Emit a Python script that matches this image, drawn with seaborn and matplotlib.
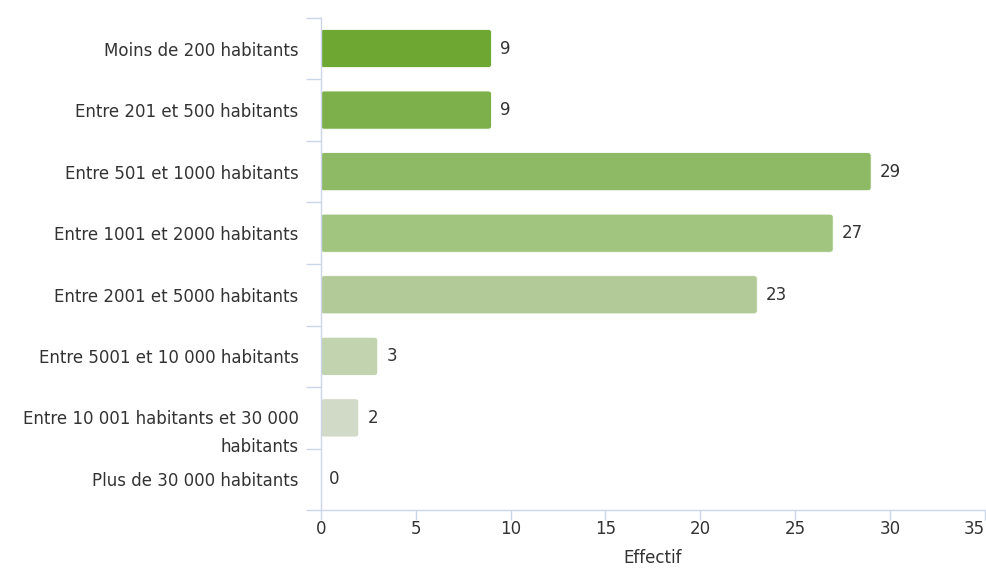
import matplotlib
matplotlib.use("Agg")
import matplotlib.pyplot as plt
import seaborn as sns
import pandas as pd
import numpy as np
from matplotlib.patches import FancyBboxPatch
from matplotlib.transforms import ScaledTranslation

# Data
categories = [
    "Moins de 200 habitants",
    "Entre 201 et 500 habitants",
    "Entre 501 et 1000 habitants",
    "Entre 1001 et 2000 habitants",
    "Entre 2001 et 5000 habitants",
    "Entre 5001 et 10 000 habitants",
    "Entre 10 001 habitants et 30 000\nhabitants",
    "Plus de 30 000 habitants",
]
effectif = [9, 9, 29, 27, 23, 3, 2, 0]
bar_colors = ["#6ea832", "#7db04b", "#8fba65", "#a1c47e",
              "#b2ca97", "#c2d4af", "#d0dac6", "#dfe4da"]
x_ticks = [0, 5, 10, 15, 20, 25, 30, 35]

df = pd.DataFrame({"categorie": categories, "effectif": effectif})

sns.set_style("white")
plt.rcParams["font.family"] = ["DejaVu Sans"]

axis_col = "#ccd6eb"
text_col = "#333333"
fs = 12

fig = plt.figure(figsize=(9.87, 5.72), dpi=100)
ax = fig.add_axes([0.325, 0.108, 0.673, 0.861])

sns.barplot(data=df, x="effectif", y="categorie", hue="categorie",
            palette=bar_colors, legend=False, width=0.62, ax=ax,
            saturation=1, linewidth=0)

ax.set_xlim(0, 35)
ax.set_ylim(7.5, -0.5)

# swap plain bars for slightly rounded ones
for p in list(ax.patches):
    x0, y0, w, h = p.get_x(), p.get_y(), p.get_width(), p.get_height()
    col = p.get_facecolor()
    p.remove()
    if w <= 0:
        continue
    ax.add_patch(FancyBboxPatch((x0, y0), w, h,
                                boxstyle="round,pad=0,rounding_size=0.17",
                                mutation_aspect=0.3, facecolor=col,
                                edgecolor="white", linewidth=0.6))

# value labels at bar ends
for i, v in enumerate(effectif):
    ax.text(v + 0.45, i, str(v), va="center", ha="left",
            fontsize=fs, color=text_col)

ax.set_xticks(x_ticks)
ax.set_xticklabels([str(t) for t in x_ticks], fontsize=fs, color=text_col)
ax.get_xticklabels()[-1].set_ha("right")

# category boundaries as minor ticks, no major tick marks on y
ax.set_yticks(np.arange(-0.5, 8, 1), minor=True)
ax.tick_params(axis="y", which="both", left=True)
ax.tick_params(axis="x", which="both", bottom=True)
ax.tick_params(axis="y", which="major", length=0, pad=16,
               labelsize=fs, labelcolor=text_col)
ax.tick_params(axis="y", which="minor", length=11, color=axis_col, width=1)
ax.tick_params(axis="x", which="major", length=7, color=axis_col, width=1,
               direction="out", pad=0)
for lbl in ax.get_yticklabels():
    lbl.set_multialignment("right")
# two-line label: first line sits level with its bar
two_line = ax.get_yticklabels()[6]
two_line.set_linespacing(1.75)
two_line.set_transform(two_line.get_transform() +
                       ScaledTranslation(0, -0.08, fig.dpi_scale_trans))

for side in ["top", "right"]:
    ax.spines[side].set_visible(False)
for side in ["left", "bottom"]:
    ax.spines[side].set_color(axis_col)
    ax.spines[side].set_linewidth(1)

ax.set_ylabel("")
ax.set_xlabel("Effectif", fontsize=fs, color=text_col, labelpad=8)

fig.savefig("out.png", dpi=100)
